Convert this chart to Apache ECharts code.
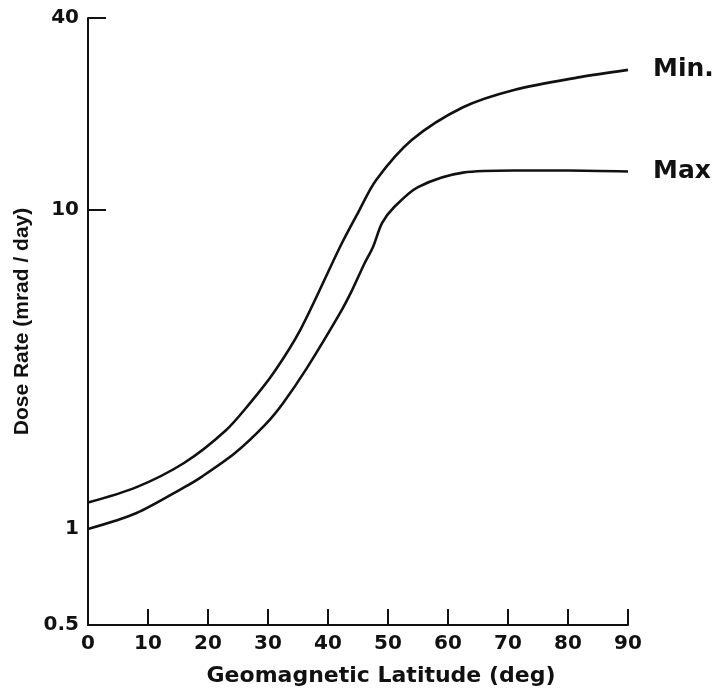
<!DOCTYPE html>
<html>
<head>
<meta charset="utf-8">
<script src="https://cdn.jsdelivr.net/npm/echarts@6/dist/echarts.min.js"></script>
<style>
  html, body { margin: 0; padding: 0; background: #fff; }
  #chart { width: 717px; height: 692px; }
</style>
</head>
<body>
<div id="chart"></div>
<script>
const minLat = [0, 8, 16, 23, 27, 31, 35.5, 42, 45, 48, 54, 62.5, 71, 82, 90]
const minDose = [1.21, 1.35, 1.61, 2.04, 2.48, 3.1, 4.25, 7.66, 9.8, 12.4, 16.6, 21.0, 23.8, 26.1, 27.5]

const maxLat = [0, 8, 16, 19, 24.5, 29.5, 32.5, 36.5, 42, 44, 46, 47.5, 49, 51, 55, 62.5, 71, 80, 90]
const maxDose = [1.0, 1.12, 1.35, 1.46, 1.73, 2.12, 2.48, 3.2, 4.75, 5.6, 6.75, 7.66, 9.1, 10.2, 11.8, 13.1, 13.3, 13.3, 13.2]

const yLabelValues = [0.5, 1, 10, 40]
const yTickValues = [10, 40]

const boldFont = 'DejaVu Sans'

function pairs(xs, ys) {
  return xs.map((x, i) => [x, ys[i]])
}

const chart = echarts.init(document.getElementById('chart'), null, { renderer: 'canvas' })

chart.setOption({
  animation: false,
  grid: { left: 88, right: 89, top: 18, bottom: 67 },
  xAxis: {
    type: 'value',
    min: 0,
    max: 90,
    interval: 10,
    name: 'Geomagnetic Latitude (deg)',
    nameLocation: 'middle',
    nameGap: 40,
    nameTextStyle: {
      fontFamily: boldFont, fontWeight: 'bold', fontSize: 22, color: '#111',
      padding: [0, 0, 0, 46],
    },
    axisLine: { lineStyle: { color: '#111', width: 2 } },
    axisTick: { inside: true, length: 16, lineStyle: { color: '#111', width: 2 } },
    axisLabel: { fontFamily: boldFont, fontWeight: 'bold', fontSize: 20, color: '#111', margin: 9 },
    splitLine: { show: false },
  },
  yAxis: {
    type: 'log',
    logBase: 10,
    min: 0.5,
    max: 40,
    name: 'Dose Rate (mrad / day)',
    nameLocation: 'middle',
    nameGap: 50,
    nameTextStyle: { fontFamily: 'Liberation Sans', fontWeight: 'bold', fontSize: 21, color: '#111' },
    axisLine: { show: true, lineStyle: { color: '#111', width: 2 } },
    axisTick: {
      show: true, inside: true, length: 18,
      customValues: yTickValues,
      lineStyle: { color: '#111', width: 2 },
    },
    axisLabel: {
      customValues: yLabelValues,
      fontFamily: boldFont, fontWeight: 'bold', fontSize: 20, color: '#111', margin: 9,
    },
    splitLine: { show: false },
  },
  series: [
    {
      name: 'Min.',
      type: 'line',
      data: pairs(minLat, minDose),
      smooth: 0.3,
      showSymbol: false,
      lineStyle: { color: '#111', width: 2.6 },
      endLabel: {
        show: true, formatter: '{a}', distance: 25,
        fontFamily: boldFont, fontWeight: 'bold', fontSize: 25, color: '#111',
      },
    },
    {
      name: 'Max',
      type: 'line',
      data: pairs(maxLat, maxDose),
      smooth: 0.3,
      showSymbol: false,
      lineStyle: { color: '#111', width: 2.6 },
      endLabel: {
        show: true, formatter: '{a}', distance: 25,
        fontFamily: boldFont, fontWeight: 'bold', fontSize: 25, color: '#111',
      },
    },
  ],
})
</script>
</body>
</html>
